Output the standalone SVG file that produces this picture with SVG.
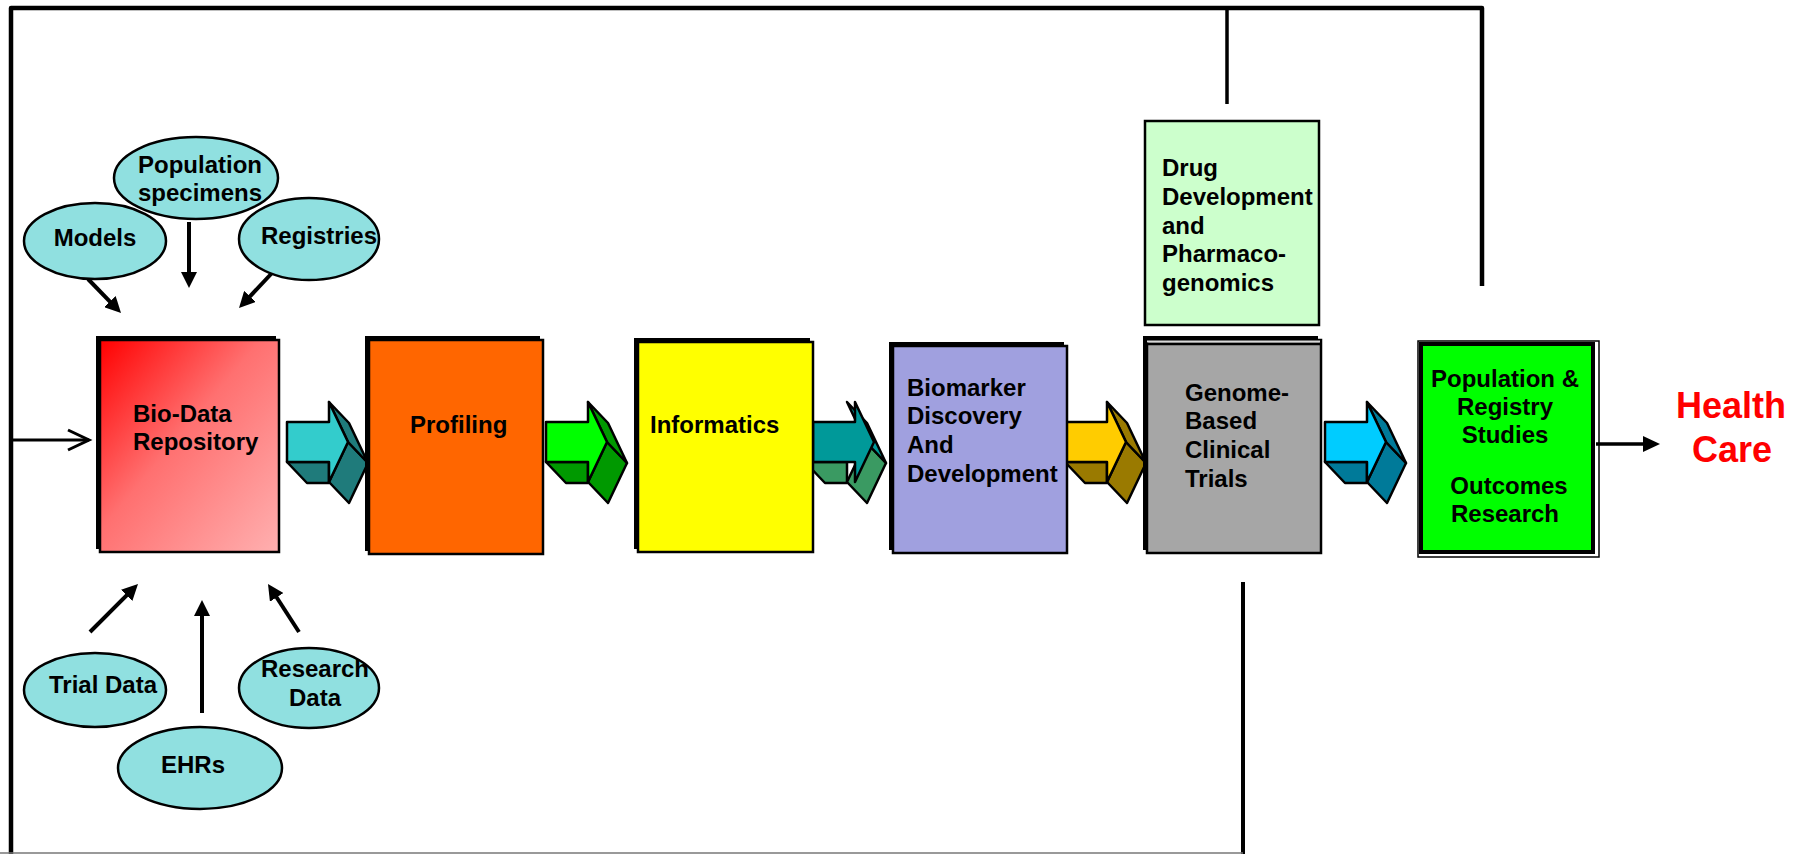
<svg xmlns="http://www.w3.org/2000/svg" width="1804" height="854" viewBox="0 0 1804 854">
  <style>
    text { font-family: "Liberation Sans", Arial, sans-serif; font-weight: bold; font-size: 24px; fill: #000; }
    .mid { text-anchor: middle; }
    .oval { fill: #90E0E0; stroke: #000; stroke-width: 2.5; }
    .frame { fill: none; stroke: #000; stroke-linecap: butt; stroke-linejoin: round; }
    .link { fill: none; stroke: #000; stroke-width: 4; marker-end: url(#head); }
    .shadow { fill: #000; }
    .box { stroke: #000; stroke-width: 2.5; }
    .blk { stroke: #000; stroke-width: 2.5; stroke-linejoin: round; }
    .hc { fill: #FF0000; font-size: 36px; text-anchor: middle; }
  </style>
  <defs>
    <marker id="head" viewBox="0 0 10 10" refX="7" refY="5" markerWidth="4" markerHeight="4" orient="auto">
      <path d="M0,0 L10,5 L0,10 Z" fill="#000" stroke="none"/>
    </marker>
    <linearGradient id="redfade" x1="0" y1="0" x2="1" y2="1">
      <stop offset="0" stop-color="#FF0000"/>
      <stop offset="0.45" stop-color="#FF7070"/>
      <stop offset="1" stop-color="#FFB0B0"/>
    </linearGradient>
    <!-- 3D block arrow: shaft-bottom face, lower head face, upper head face, front face -->
    <g id="blk-sides-low">
      <path d="M0,40 H42 V61 H20 Z"/>
      <path d="M61,20 L81,41 L62,81 L42,60 Z"/>
    </g>
    <path id="blk-side-up" d="M42,-20 L62,1 L81,41 L61,20 Z"/>
    <path id="blk-front" d="M0,0 H42 V-20 L61,20 L42,60 V40 H0 Z"/>
  </defs>

  <rect width="1804" height="854" fill="#fff"/>

  <!-- outer frame lines -->
  <g id="frame">
    <path class="frame" d="M11,854 V8 H1482 V286" stroke-width="4.5"/>
    <line class="frame" x1="1227" y1="8" x2="1227" y2="104" stroke-width="3.5"/>
    <line class="frame" x1="1243" y1="582" x2="1243" y2="854" stroke-width="4"/>
    <line x1="0" y1="853" x2="1243" y2="853" stroke="#777" stroke-width="1.5"/>
  </g>

  <!-- connectors -->
  <g id="connectors">
    <line class="link" x1="88" y1="279" x2="117.7" y2="309.6"/>
    <line class="link" x1="189" y1="222" x2="189" y2="283.2"/>
    <line class="link" x1="272" y1="273" x2="242.3" y2="304.5"/>
    <line class="link" x1="90" y1="632" x2="134.6" y2="587.4"/>
    <line class="link" x1="202" y1="713" x2="202" y2="604.8"/>
    <line class="link" x1="299" y1="632" x2="270.6" y2="588"/>
    <line x1="11" y1="440" x2="89" y2="440" stroke="#000" stroke-width="3"/>
    <polyline points="68,430 89,440 68,450" fill="none" stroke="#000" stroke-width="3"/>
    <line x1="1596" y1="444" x2="1645" y2="444" stroke="#000" stroke-width="3.5"/>
    <path d="M1643,436 L1660,444 L1643,452 Z" fill="#000"/>

    <!-- block arrows between stages -->
    <g class="blk" transform="translate(287,422)">
      <use href="#blk-sides-low" fill="#1F7B7B"/>
      <use href="#blk-side-up" fill="#1F7B7B"/>
      <use href="#blk-front" fill="#33CCCC"/>
    </g>
    <g class="blk" transform="translate(546,422)">
      <use href="#blk-sides-low" fill="#009900"/>
      <use href="#blk-side-up" fill="#009900"/>
      <use href="#blk-front" fill="#00FF00"/>
    </g>
    <g class="blk" transform="translate(805,422)">
      <use href="#blk-sides-low" fill="#3A9A62"/>
      <use href="#blk-side-up" fill="#009999"/>
      <use href="#blk-front" fill="#009999" transform="translate(8,0)"/>
    </g>
    <g class="blk" transform="translate(1065,422)">
      <use href="#blk-sides-low" fill="#9A7A00"/>
      <use href="#blk-side-up" fill="#9A7A00"/>
      <use href="#blk-front" fill="#FFCC00"/>
    </g>
    <g class="blk" transform="translate(1325,422)">
      <use href="#blk-sides-low" fill="#007A99"/>
      <use href="#blk-side-up" fill="#007A99"/>
      <use href="#blk-front" fill="#00CCFF"/>
    </g>
  </g>

  <!-- data sources -->
  <g id="models">
    <ellipse class="oval" cx="95" cy="241" rx="71" ry="38"/>
    <text class="mid" x="95" y="246">Models</text>
  </g>
  <g id="population-specimens">
    <ellipse class="oval" cx="196" cy="178" rx="82" ry="41"/>
    <text class="mid" x="200" y="173">Population</text>
    <text class="mid" x="200" y="201">specimens</text>
  </g>
  <g id="registries">
    <ellipse class="oval" cx="309" cy="239" rx="70" ry="41"/>
    <text class="mid" x="319" y="244">Registries</text>
  </g>
  <g id="trial-data">
    <ellipse class="oval" cx="95" cy="690" rx="71" ry="37"/>
    <text class="mid" x="103" y="693">Trial Data</text>
  </g>
  <g id="ehrs">
    <ellipse class="oval" cx="200" cy="768" rx="82" ry="41"/>
    <text class="mid" x="193" y="773">EHRs</text>
  </g>
  <g id="research-data">
    <ellipse class="oval" cx="309" cy="688" rx="70" ry="40"/>
    <text class="mid" x="315" y="677">Research</text>
    <text class="mid" x="315" y="706">Data</text>
  </g>

  <!-- pipeline stages -->
  <g id="bio-data-repository">
    <rect class="shadow" x="96" y="336" width="180" height="213"/>
    <rect class="box" x="100" y="340" width="179" height="212" fill="url(#redfade)"/>
    <text x="133" y="422">Bio-Data</text>
    <text x="133" y="450">Repository</text>
  </g>
  <g id="profiling">
    <rect class="shadow" x="365" y="336" width="175" height="215"/>
    <rect class="box" x="369" y="340" width="174" height="214" fill="#FF6600"/>
    <text x="410" y="433">Profiling</text>
  </g>
  <g id="informatics">
    <rect class="shadow" x="634" y="338" width="176" height="211"/>
    <rect class="box" x="638" y="342" width="175" height="210" fill="#FFFF00"/>
    <text x="650" y="433">Informatics</text>
  </g>
  <g id="biomarker">
    <rect class="shadow" x="889" y="342" width="175" height="208"/>
    <rect class="box" x="893" y="346" width="174" height="207" fill="#A0A0DF"/>
    <text x="907" y="396">Biomarker</text>
    <text x="907" y="424">Discovery</text>
    <text x="907" y="453">And</text>
    <text x="907" y="482">Development</text>
  </g>
  <g id="genome-trials">
    <rect class="shadow" x="1143" y="336" width="175" height="214"/>
    <rect class="box" x="1147" y="340" width="174" height="213" fill="#A6A6A6"/>
    <line x1="1147" y1="341.5" x2="1320" y2="341.5" stroke="#D8D8D8" stroke-width="2"/>
    <line x1="1146" y1="344" x2="1320" y2="344" stroke="#000" stroke-width="2.5"/>
    <text x="1185" y="401">Genome-</text>
    <text x="1185" y="429">Based</text>
    <text x="1185" y="458">Clinical</text>
    <text x="1185" y="487">Trials</text>
  </g>
  <g id="drug-development">
    <rect x="1145" y="121" width="174" height="204" fill="#CCFFCC" stroke="#000" stroke-width="2.5"/>
    <text x="1162" y="176">Drug</text>
    <text x="1162" y="205">Development</text>
    <text x="1162" y="234">and</text>
    <text x="1162" y="262">Pharmaco-</text>
    <text x="1162" y="291">genomics</text>
  </g>
  <g id="population-registry">
    <rect x="1418" y="341" width="181" height="216" fill="none" stroke="#000" stroke-width="1.5"/>
    <rect x="1421" y="344" width="172" height="208" fill="#00FF00" stroke="#000" stroke-width="4"/>
    <text class="mid" x="1505" y="387">Population &amp;</text>
    <text class="mid" x="1505" y="415">Registry</text>
    <text class="mid" x="1505" y="443">Studies</text>
    <text class="mid" x="1509" y="494">Outcomes</text>
    <text class="mid" x="1505" y="522">Research</text>
  </g>
  <g id="health-care">
    <text class="hc" x="1731" y="418">Health</text>
    <text class="hc" x="1732" y="462">Care</text>
  </g>
</svg>
